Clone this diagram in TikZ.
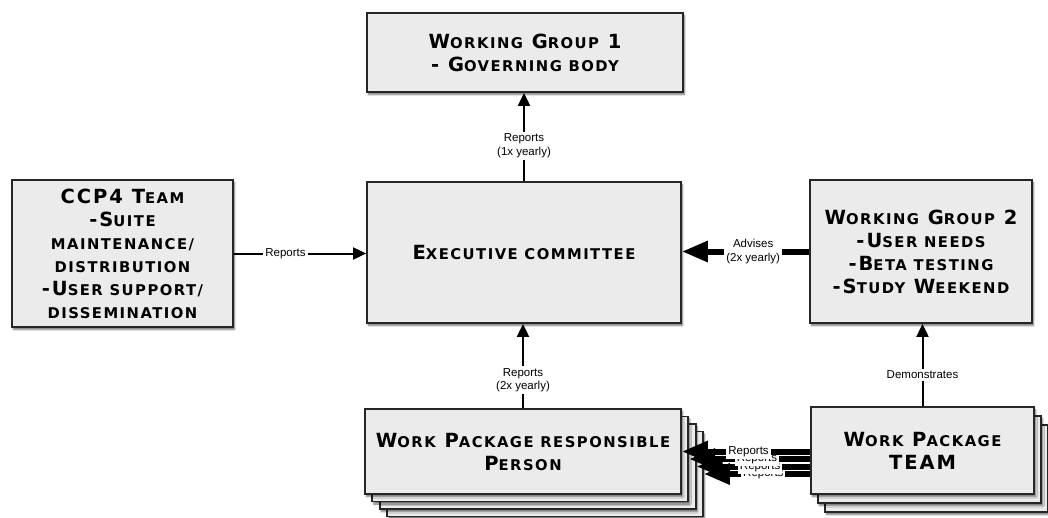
\documentclass[tikz,border=0pt]{standalone}
\usepackage{fontspec}
\usetikzlibrary{arrows.meta,shadows.blur}
\newfontfamily\capsfont[LetterSpace=10]{DejaVu Sans}
\newfontfamily\labelfont{Liberation Sans}
\newcommand\sm[1]{{\fontsize{14.8}{23}\selectfont #1}}
\definecolor{boxgray}{RGB}{235,235,235}
\tikzset{
  orgbox/.style={draw=black!85, line width=1.8pt, fill=boxgray, inner sep=0pt, align=center,
    font=\capsfont\bfseries\fontsize{19.5}{23}\selectfont,
    blur shadow={shadow xshift=1.5pt, shadow yshift=-2.5pt, shadow blur steps=6, shadow opacity=55}},
  lbl/.style={fill=white, inner sep=2pt, align=center, font=\labelfont\fontsize{11.5}{13.5}\selectfont},
  thinarrow/.style={line width=2pt, -{Triangle[length=13pt,width=12pt]}},
  fatarrow/.style={line width=6pt, -{Triangle[length=26pt,width=20pt]}},
}
\begin{document}
\begin{tikzpicture}[x=1pt,y=-1pt]
  \useasboundingbox (0,0) rectangle (1048,517);
  \node[orgbox, minimum width=316pt, minimum height=79pt] (wg1) at (525,52.5)
    {W\sm{ORKING} G\sm{ROUP} 1\\- G\sm{OVERNING BODY}};
  \node[orgbox, minimum width=314pt, minimum height=141pt] (exec) at (524,252.5)
    {E\sm{XECUTIVE COMMITTEE}};
  \node[orgbox, minimum width=221pt, minimum height=147pt] (ccp4) at (122.5,253.5)
    {CCP4 T\sm{EAM}\\-S\sm{UITE}\\\sm{MAINTENANCE/}\\\sm{DISTRIBUTION}\\-U\sm{SER SUPPORT/}\\\sm{DISSEMINATION}};
  \node[orgbox, minimum width=222pt, minimum height=143pt] (wg2) at (921,251.5)
    {W\sm{ORKING} G\sm{ROUP} 2\\-U\sm{SER NEEDS}\\-B\sm{ETA TESTING}\\-S\sm{TUDY} W\sm{EEKEND}};
  \foreach \k in {3,2,1}
    \node[orgbox, minimum width=316pt, minimum height=85pt] (wprp\k) at (523+7.3*\k,451.5+7.5*\k) {};
  \node[orgbox, minimum width=316pt, minimum height=85pt] (wprp) at (523,451.5)
    {W\sm{ORK} P\sm{ACKAGE RESPONSIBLE}\\P\sm{ERSON}};
  \foreach \k in {2,1}
    \node[orgbox, minimum width=223pt, minimum height=87pt] (wpt\k) at (922.5+7*\k,450.5+9*\k) {};
  \node[orgbox, minimum width=223pt, minimum height=87pt] (wpt) at (922.5,450.5)
    {W\sm{ORK} P\sm{ACKAGE}\\TEAM};

  \draw[thinarrow] (exec.north) -- node[lbl, pos=0.4] {Reports\\(1x yearly)} (exec.north |- wg1.south);
  \draw[thinarrow] (ccp4.east) -- node[lbl, pos=0.39] {Reports} (ccp4.east -| exec.west);
  \draw[fatarrow] (wg2.west) -- node[lbl, pos=0.44] {Advises\\(2x yearly)} (wg2.west -| exec.east);
  \draw[thinarrow] (wprp.north) -- node[lbl, pos=0.33] {Reports\\(2x yearly)} (wprp.north |- exec.south);
  \draw[thinarrow] (wpt.north) -- node[lbl, pos=0.38] {Demonstrates} (wpt.north |- wg2.south);
  \foreach \k in {3,2,1}
    \draw[fatarrow] (wpt.west |- wprp\k.east) -- node[lbl, pos=0.44] {Reports} (wprp\k.east);
  \draw[fatarrow] (wpt.west |- wprp.east) -- node[lbl, pos=0.48] {Reports} (wprp.east);
\end{tikzpicture}
\end{document}
